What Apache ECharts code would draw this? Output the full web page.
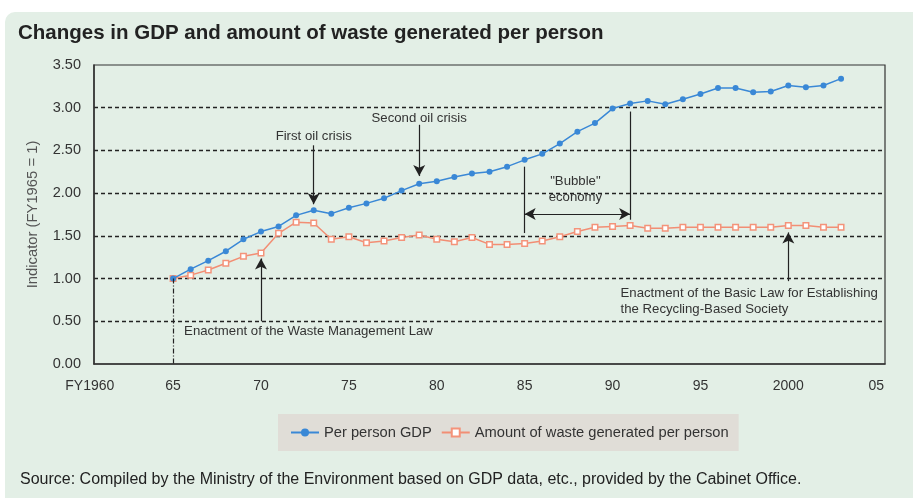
<!DOCTYPE html>
<html>
<head>
<meta charset="utf-8">
<script src="https://cdn.jsdelivr.net/npm/echarts@6/dist/echarts.min.js"></script>
<style>
  html, body { margin: 0; padding: 0; background: #fff; }
  #wrap { position: relative; width: 913px; height: 498px; overflow: hidden; }
  #panel { position: absolute; left: 5px; top: 12px; width: 940px; height: 520px; background: #e3efe6; border-radius: 10px; }
  #chart { position: absolute; left: 0; top: 0; width: 913px; height: 498px; }
</style>
</head>
<body>
<div id="wrap"><div id="panel"></div><div id="chart"></div></div>
<script>
    'use strict'

    /* Chart data */
    var firstYear = 1961, lastYear = 2005;
    var seriesStart = 1965;
    var gdpPerPerson = [1.00, 1.11, 1.21, 1.32, 1.46, 1.55, 1.61, 1.74, 1.80, 1.76,
        1.83, 1.88, 1.94, 2.03, 2.11, 2.14, 2.19, 2.23, 2.25, 2.31,
        2.39, 2.46, 2.58, 2.72, 2.82, 2.99, 3.05, 3.08, 3.04, 3.10,
        3.16, 3.23, 3.23, 3.18, 3.19, 3.26, 3.24, 3.26, 3.34];
    var wastePerPerson = [1.00, 1.04, 1.10, 1.18, 1.26, 1.30, 1.53, 1.66, 1.65, 1.46,
        1.49, 1.42, 1.44, 1.48, 1.51, 1.46, 1.43, 1.48, 1.40, 1.40,
        1.41, 1.44, 1.49, 1.55, 1.60, 1.61, 1.62, 1.59, 1.59, 1.60,
        1.60, 1.60, 1.60, 1.60, 1.60, 1.62, 1.62, 1.60, 1.60];
    var xTickLabels = { '1961': 'FY1960', '1965': '65', '1970': '70', '1975': '75', '1980': '80',
        '1985': '85', '1990': '90', '1995': '95', '2000': '2000', '2005': '05' };
    var yTicks = { min: 0, max: 3.5, interval: 0.5 };

    var years = [];
    for (var y = firstYear; y <= lastYear; y++) years.push(String(y));

    function toPairs(values) {
        return values.map(function (v, i) { return [String(seriesStart + i), v]; });
    }

    /* annotation arrows, in data coordinates */
    function arrow(year, from, to) {
        return [{ coord: [year, from], symbol: 'none' }, { coord: [year, to], symbol: 'arrow' }];
    }
    var annoLines = [
        arrow('1973', 2.56, 1.87),
        arrow('1979', 2.80, 2.20),
        arrow('1970', 0.50, 1.235),
        arrow('2000', 0.97, 1.54),
        [{ coord: ['1985', 2.31], symbol: 'none' }, { coord: ['1985', 1.533], symbol: 'none' }],
        [{ coord: ['1991', 2.955], symbol: 'none' }, { coord: ['1991', 1.689], symbol: 'none' }],
        [{ coord: ['1985', 1.755], symbol: 'arrow' }, { coord: ['1991', 1.755], symbol: 'arrow' }],
        [{ coord: ['1965', 1.0], symbol: 'none', lineStyle: { type: [5, 2, 1, 2] } },
         { coord: ['1965', 0], symbol: 'none' }]
    ];
    var annoTexts = [
        { name: 'First oil crisis', coord: ['1973', 2.67] },
        { name: 'Second oil crisis', coord: ['1979', 2.88] },
        { name: '"Bubble"\neconomy', coord: ['1988', 2.04], label: { offset: [-2, 0], lineHeight: 16 } },
        { name: 'Enactment of the Waste Management Law', coord: ['1965', 0.383], label: { align: 'left', offset: [11, 0] } },
        { name: 'Enactment of the Basic Law for Establishing\nthe Recycling-Based Society', coord: ['1990', 0.73],
          label: { align: 'left', offset: [8, 0], lineHeight: 16 } }
    ];

    var textColor = '#333';
    var font = 'Liberation Sans, Arial, sans-serif';

    var chart = echarts.init(document.getElementById('chart'));

    chart.setOption({
        backgroundColor: 'transparent',
        textStyle: { fontFamily: font },
        title: {
            text: 'Changes in GDP and amount of waste generated per person',
            left: 18,
            top: 23,
            padding: 0,
            textStyle: { fontSize: 20.5, fontWeight: 'bold', color: '#222', fontFamily: font }
        },
        grid: {
            left: 94,
            right: 28,
            top: 65,
            bottom: 134,
            show: true,
            borderColor: '#333',
            borderWidth: 1.2
        },
        legend: {
            left: 278,
            top: 414,
            backgroundColor: '#e0ddd7',
            padding: [11, 10, 11, 12],
            itemWidth: 28,
            itemHeight: 10,
            itemGap: 9,
            textStyle: { fontSize: 14.7, color: textColor },
            data: ['Per person GDP', 'Amount of waste generated per person']
        },
        xAxis: {
            type: 'category',
            data: years,
            boundaryGap: true,
            axisLine: { lineStyle: { color: '#333', width: 1.5 } },
            axisTick: {
                alignWithLabel: true,
                interval: 0,
                inside: true,
                length: 6,
                lineStyle: { color: '#333', width: 1.2 }
            },
            axisLabel: {
                interval: function (i, v) { return xTickLabels.hasOwnProperty(v); },
                margin: 15,
                fontSize: 14,
                color: textColor,
                formatter: function (v) {
                    return v === '1961' ? '{f|' + xTickLabels[v] + '}' : xTickLabels[v];
                },
                rich: { f: { fontSize: 14, color: textColor, padding: [0, 26, 0, 0] } }
            },
            splitLine: { show: false }
        },
        yAxis: {
            type: 'value',
            min: yTicks.min,
            max: yTicks.max,
            interval: yTicks.interval,
            name: 'Indicator (FY1965 = 1)',
            nameLocation: 'middle',
            nameGap: 54,
            nameTextStyle: { fontSize: 14.8, color: '#555' },
            axisLine: { show: true, lineStyle: { color: '#333', width: 1.5 } },
            axisTick: { show: false },
            axisLabel: {
                margin: 13,
                fontSize: 14.5,
                color: textColor,
                formatter: function (v) { return v.toFixed(2); }
            },
            splitLine: {
                show: true,
                showMinLine: false,
                showMaxLine: false,
                lineStyle: { color: '#222', type: [4, 3], width: 1.3 }
            }
        },
        series: [
            {
                name: 'Per person GDP',
                type: 'line',
                z: 3,
                data: toPairs(gdpPerPerson),
                symbol: 'circle',
                symbolSize: 6,
                itemStyle: { color: '#3a88d6' },
                lineStyle: { color: '#3a88d6', width: 1.5 },
                markLine: {
                    silent: true,
                    symbolSize: [9, 11],
                    label: { show: false },
                    lineStyle: { color: '#222', width: 1.2, type: 'solid' },
                    emphasis: { disabled: true },
                    data: annoLines
                },
                markPoint: {
                    silent: true,
                    symbol: 'circle',
                    symbolSize: 1,
                    itemStyle: { color: 'rgba(0,0,0,0)' },
                    label: {
                        show: true,
                        position: 'inside',
                        formatter: '{b}',
                        fontSize: 13.2,
                        color: textColor
                    },
                    data: annoTexts
                }
            },
            {
                name: 'Amount of waste generated per person',
                type: 'line',
                z: 2,
                data: toPairs(wastePerPerson),
                symbol: 'rect',
                symbolSize: 5.5,
                itemStyle: { color: '#ffffff', borderColor: '#f4937a', borderWidth: 1.5 },
                lineStyle: { color: '#f28e74', width: 1.5 }
            }
        ],
        graphic: [{
            type: 'text',
            left: 20,
            top: 472,
            style: {
                text: 'Source: Compiled by the Ministry of the Environment based on GDP data, etc., provided by the Cabinet Office.',
                fontSize: 16,
                fill: '#222',
                fontFamily: font
            }
        }]
    });
</script>
</body>
</html>
